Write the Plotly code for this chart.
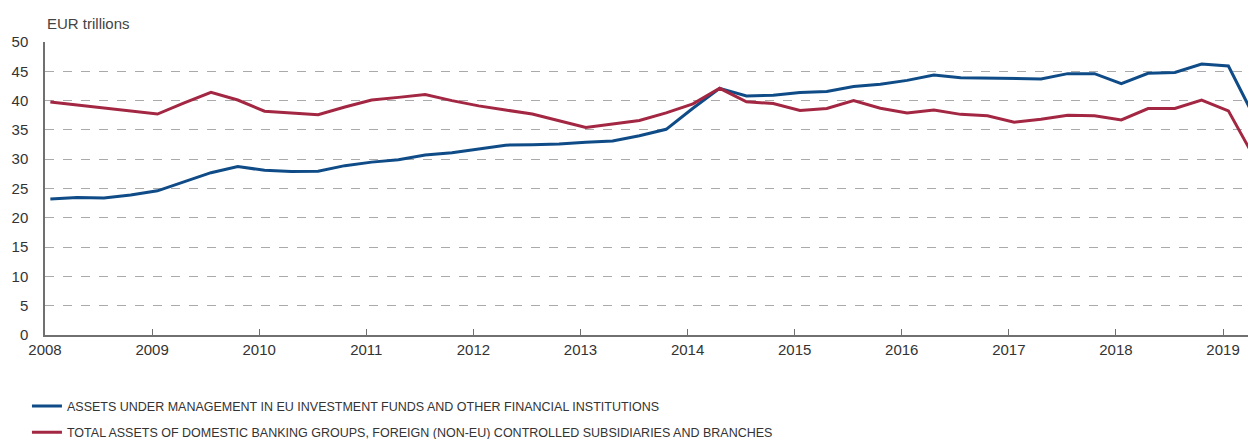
import pandas as pd
import plotly.graph_objects as go

# Quarterly observations, 2008Q1 .. 2019Q2
quarters = pd.period_range("2008Q1", "2019Q2", freq="Q")

aum_eu_funds = [
    23.2, 23.45, 23.4, 23.9, 24.6, 26.2, 27.7, 28.75,
    28.1, 27.9, 27.95, 28.9, 29.5, 29.9, 30.7, 31.1,
    31.7, 32.4, 32.45, 32.6, 32.9, 33.1, 34.0, 35.1,
    38.7, 42.1, 40.8, 40.9, 41.4, 41.55, 42.4, 42.8,
    43.45, 44.35, 43.9, 43.85, 43.8, 43.7, 44.6, 44.6,
    42.9, 44.65, 44.8, 46.25, 45.9, 36.9,
]
bank_assets = [
    39.75, 39.25, 38.7, 38.2, 37.7, 39.6, 41.4, 40.1,
    38.2, 37.9, 37.6, 38.9, 40.1, 40.55, 41.05, 40.0,
    39.1, 38.4, 37.7, 36.55, 35.4, 36.0, 36.6, 37.9,
    39.45, 42.1, 39.8, 39.5, 38.3, 38.65, 40.0, 38.7,
    37.9, 38.4, 37.65, 37.4, 36.3, 36.8, 37.5, 37.4,
    36.7, 38.65, 38.65, 40.1, 38.25, 30.0,
]
series_names = [
    "ASSETS UNDER MANAGEMENT IN EU INVESTMENT FUNDS AND OTHER FINANCIAL INSTITUTIONS",
    "TOTAL ASSETS OF DOMESTIC BANKING GROUPS, FOREIGN (NON-EU) CONTROLLED SUBSIDIARIES AND BRANCHES",
]
year_ticks = list(range(2008, 2020))
y_ticks = list(range(0, 51, 5))

x = [q.year + (q.quarter - 1) * 0.25 + 0.05 for q in quarters]

fig = go.Figure()
fig.add_trace(go.Scatter(x=x, y=aum_eu_funds, mode="lines", name=series_names[0],
                         legendgroup="a", line=dict(color="#0f4c87", width=3)))
fig.add_trace(go.Scatter(x=x, y=bank_assets, mode="lines", name=series_names[1],
                         legendgroup="b", line=dict(color="#a32742", width=3)))

fig.update_layout(
    width=1248, height=439,
    margin=dict(l=45, r=0, t=42, b=104, autoexpand=False),
    paper_bgcolor="white", plot_bgcolor="white",
    font=dict(family="Liberation Sans, Arial, sans-serif", size=15, color="#333333"),
    showlegend=True,
    legend=dict(
        x=-0.015, y=-0.192, xanchor="left", yanchor="top",
        traceorder="grouped", tracegroupgap=7,
        font=dict(family="Liberation Sans Narrow, Liberation Sans, sans-serif", size=12.5, color="#333333"),
        bgcolor="rgba(0,0,0,0)",
    ),
    xaxis=dict(
        range=[2008, 2019.233], tickmode="array", tickvals=year_ticks,
        ticktext=[str(v) for v in year_ticks], automargin=False,
        showgrid=False, zeroline=False,
        showline=True, linecolor="#707070", linewidth=2,
        ticks="inside", ticklen=6, tickcolor="#707070", tickwidth=1,
    ),
    yaxis=dict(
        range=[0, 50], tickmode="array", tickvals=y_ticks, automargin=False,
        showgrid=True, gridcolor="#aaaaaa", griddash="dash", gridwidth=1,
        zeroline=False, showline=True, linecolor="#707070", linewidth=1.5,
        ticks="", ticklabelstandoff=12,
    ),
    annotations=[dict(
        text="EUR trillions", xref="paper", yref="paper", x=0.0, y=1.0,
        xanchor="left", yanchor="bottom", yshift=8, showarrow=False,
        font=dict(family="Liberation Sans, Arial, sans-serif", size=15, color="#444444"),
    )],
)

fig.write_html(
    "out.html",
    config={"displayModeBar": False},
    post_script="document.body.style.margin='0';document.body.style.overflow='hidden';",
)
